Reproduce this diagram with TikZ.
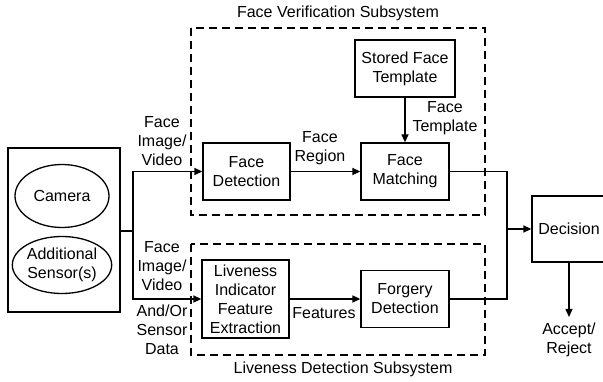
\documentclass[tikz,border=0pt]{standalone}
\usepackage{fontspec}
\setmainfont{Liberation Sans}
\usetikzlibrary{arrows.meta,shapes.geometric}
\begin{document}
\begin{tikzpicture}[x=1pt,y=-1pt,
  font=\fontsize{16}{19}\selectfont,
  line width=1.3pt,
  box/.style={draw, rectangle, align=center, inner sep=0pt},
  oval/.style={draw, ellipse, align=center, inner sep=0pt},
  flow/.style={-{Triangle[length=8pt,width=7pt]}},
  group/.style={draw, dash pattern=on 8pt off 5pt, line width=1.2pt},
  lbl/.style={align=center, inner sep=0pt}]
\clip (0,0) rectangle (603,382);

% sensing unit
\node[box, minimum width=112pt, minimum height=164pt] (sensors) at (64,230) {};
\node[oval, minimum width=94pt, minimum height=63pt] (camera) at (62,196) {Camera};
\node[oval, minimum width=97pt, minimum height=57pt] (extra) at (62,265) {Additional\\Sensor(s)};

% subsystem frames
\draw[group] (191,28) rectangle (485,215);
\draw[group] (191,244) rectangle (485,355);
\node[lbl] (vtitle) at (338,13) {Face Verification Subsystem};
\node[lbl] (ltitle) at (343,369) {Liveness Detection Subsystem};

% processing blocks
\node[box, minimum width=87pt, minimum height=57pt] (facedet) at (246.5,171.5) {Face\\Detection};
\node[box, minimum width=88pt, minimum height=57pt] (match) at (405,171.5) {Face\\Matching};
\node[box, minimum width=100pt, minimum height=57pt] (stored) at (405,68.5) {Stored Face\\Template};
\node[box, minimum width=87pt, minimum height=78pt] (live) at (245.5,299) {Liveness\\Indicator\\Feature\\Extraction};
\node[box, minimum width=88pt, minimum height=57pt] (forgery) at (405,299) {Forgery\\Detection};
\node[box, minimum width=74pt, minimum height=66pt] (decision) at (569,229) {Decision};

% junctions and free end
\coordinate (split) at (133,231);
\coordinate (merge) at (507,229);
\coordinate (result) at (569,317);

% connectors
\draw (sensors.east |- split) -- (split);
\draw[flow] (split) |- (facedet.west);
\draw[flow] (split) |- (live.west);
\draw[flow] (facedet.east) -- (match.west);
\draw[flow] (stored.south) -- (match.north);
\draw[flow] (live.east) -- (forgery.west);
\draw (match.east) -| (merge);
\draw (forgery.east) -| (merge);
\draw[flow] (merge) -- (decision.west);
\draw[flow] (decision.south) -- (result);

% connector labels
\node[lbl] (l1) at (162,141) {Face\\Image/\\Video};
\node[lbl] (l2) at (162,266) {Face\\Image/\\Video};
\node[lbl] (l3) at (162,330) {And/Or\\Sensor\\Data};
\node[lbl] (l4) at (320,148.5) {Face\\Region};
\node[lbl] (l5) at (445,118.5) {Face\\Template};
\node[lbl] (l6) at (324,313) {Features};
\node[lbl] (l7) at (569,340) {Accept/\\Reject};
\end{tikzpicture}
\end{document}
